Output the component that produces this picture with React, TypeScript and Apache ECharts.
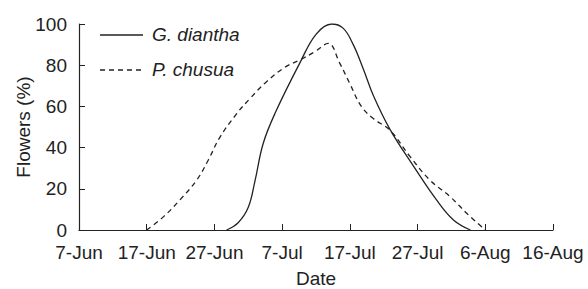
import React, { useEffect, useRef } from "react";
import * as echarts from "echarts";

const tickLabels = ["7-Jun", "17-Jun", "27-Jun", "7-Jul", "17-Jul", "27-Jul", "6-Aug", "16-Aug"];
const seriesNames = ["G. diantha", "P. chusua"];
// days since 7-Jun
const dianthaDays = [21.8, 23.5, 25.0, 26.0, 27.2, 29.0, 32.6, 35.0, 37.3, 39.0, 40.5, 42.0, 43.5, 45.9, 49.4, 52.8, 55.3, 57.8];
const dianthaValues = [0, 3.5, 11, 24, 42, 57, 81, 95, 100, 98, 90, 78, 65, 49, 31, 14.6, 4.9, 0];
const chusuaDays = [10, 12.5, 14.9, 17.4, 19.1, 20.8, 23.3, 25.3, 27.7, 30.4, 32.6, 34.8, 36.8, 38.5, 40, 41.7, 43.5, 45.9, 48.9, 51.8, 54.8, 57.3, 60];
const chusuaValues = [0, 6.5, 14.6, 24.3, 34, 45, 56.5, 64, 72, 79, 82.5, 86.5, 90.6, 81, 71, 60, 54, 48.5, 35.6, 24.3, 16.2, 8, 0];

const FONT = "Liberation Sans, Arial, Helvetica, sans-serif";
const INK = "#222";
const FS = 19;

export default function App() {
  const ref = useRef<HTMLDivElement>(null);
  useEffect(() => {
    if (!ref.current) return;
    const chart = echarts.init(ref.current, undefined, { renderer: "svg" });
    const pair = (xs: number[], ys: number[]) => xs.map((x, i) => [x, ys[i]]);
    chart.setOption({
      animation: false,
      textStyle: { fontFamily: FONT, color: INK },
      grid: { left: 79, right: 35, top: 24, bottom: 59, containLabel: false, outerBoundsMode: "none" },
      graphic: [
        { type: "line", shape: { x1: 100, y1: 35, x2: 143, y2: 35 }, style: { stroke: INK, lineWidth: 1.3 } },
        { type: "line", shape: { x1: 100, y1: 70, x2: 143, y2: 70 }, style: { stroke: INK, lineWidth: 1.3, lineDash: [5, 4] } },
        {
          type: "text",
          left: 152,
          top: 25,
          style: { text: seriesNames[0], fontSize: FS, fontStyle: "italic", fontFamily: FONT, fill: INK },
        },
        {
          type: "text",
          left: 152,
          top: 60,
          style: { text: seriesNames[1], fontSize: FS, fontStyle: "italic", fontFamily: FONT, fill: INK },
        },
      ],
      xAxis: {
        type: "value",
        min: 0,
        max: 70,
        interval: 10,
        name: "Date",
        nameLocation: "middle",
        nameGap: 39,
        nameMoveOverlap: false,
        nameTextStyle: { fontSize: FS, color: INK, fontFamily: FONT },
        splitLine: { show: false },
        axisLine: { lineStyle: { color: INK, width: 1.2 } },
        axisTick: { inside: true, length: 6, lineStyle: { color: INK } },
        axisLabel: {
          fontSize: FS,
          color: INK,
          margin: 13,
          formatter: (v: number) => tickLabels[Math.round(v / 10)] ?? "",
        },
      },
      yAxis: {
        type: "value",
        min: 0,
        max: 100,
        interval: 20,
        name: "Flowers (%)",
        nameLocation: "middle",
        nameGap: 46,
        nameMoveOverlap: false,
        nameTextStyle: { fontSize: FS, color: INK, fontFamily: FONT },
        splitLine: { show: false },
        axisLine: { show: true, lineStyle: { color: INK, width: 1.2 } },
        axisTick: { show: true, inside: true, length: 6, lineStyle: { color: INK } },
        axisLabel: { fontSize: FS, color: INK, margin: 12 },
      },
      series: [
        {
          name: seriesNames[0],
          type: "line",
          data: pair(dianthaDays, dianthaValues),
          smooth: 0.4,
          symbol: "none",
          lineStyle: { color: INK, width: 1.3, type: "solid" },
        },
        {
          name: seriesNames[1],
          type: "line",
          data: pair(chusuaDays, chusuaValues),
          smooth: 0.4,
          symbol: "none",
          lineStyle: { color: INK, width: 1.3, type: [5, 4] },
        },
      ],
    });
    return () => chart.dispose();
  }, []);
  return <div ref={ref} style={{ width: 588, height: 289, position: "absolute", left: 0, top: 0 }} />;
}
